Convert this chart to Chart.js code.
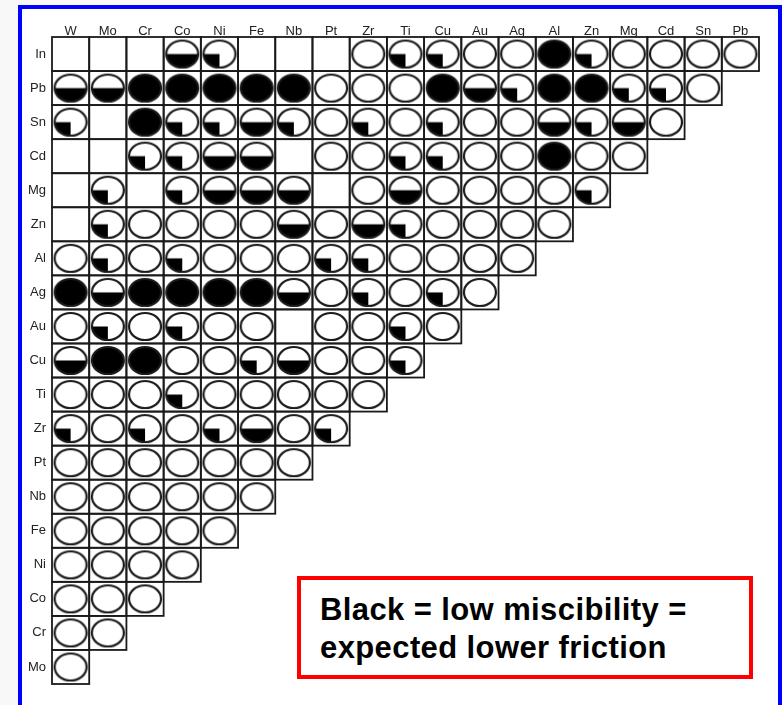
<!DOCTYPE html>
<html>
<head>
<meta charset="utf-8">
<title>Miscibility chart</title>
<script src="https://cdn.jsdelivr.net/npm/chart.js@4.4.0/dist/chart.umd.min.js"></script>
<style>
	html, body { margin: 0; padding: 0; background: #f8f8f8; overflow: hidden; }
	#frame { position: absolute; left: 18px; top: 5px; width: 756px; height: 720px; background: #fff; border: 4px solid #0000ff; border-bottom: none; }
	#chartBox { position: absolute; left: 0; top: 0; width: 782px; height: 705px; }
	#note { position: absolute; left: 297px; top: 576px; width: 429px; height: 84px; padding: 11px 0 0 19px; border: 4px solid #ff0000; background: #fff;
		font: bold 31px 'Liberation Sans', Arial, sans-serif; line-height: 38px; letter-spacing: 0.4px; color: #000; white-space: nowrap; }
</style>
</head>
<body>
<div id="frame"></div>
<div id="chartBox"><canvas id="misc" width="782" height="705"></canvas></div>
<div id="note">Black = low miscibility =<br>expected lower friction</div>
<script>
// columns and rows of the compatibility chart
var cols = ['W', 'Mo', 'Cr', 'Co', 'Ni', 'Fe', 'Nb', 'Pt', 'Zr', 'Ti', 'Cu', 'Au', 'Ag', 'Al', 'Zn', 'Mg', 'Cd', 'Sn', 'Pb'];
var rows = ['In', 'Pb', 'Sn', 'Cd', 'Mg', 'Zn', 'Al', 'Ag', 'Au', 'Cu', 'Ti', 'Zr', 'Pt', 'Nb', 'Fe', 'Ni', 'Co', 'Cr', 'Mo'];

// 0 = no mark, 1 = open circle, 2 = quarter black, 3 = half black, 4 = all black
var rowIn = [0, 0, 0, 3, 2, 0, 0, 0, 1, 2, 2, 1, 1, 4, 2, 1, 1, 1, 1];
var rowPb = [3, 3, 4, 4, 4, 4, 4, 1, 1, 1, 4, 3, 2, 4, 4, 2, 2, 1];
var rowSn = [2, 0, 4, 2, 2, 3, 2, 1, 2, 1, 2, 1, 1, 3, 2, 3, 1];
var rowCd = [0, 0, 2, 2, 3, 3, 0, 1, 1, 2, 2, 1, 1, 4, 1, 1];
var rowMg = [0, 2, 0, 2, 3, 3, 3, 0, 1, 3, 1, 1, 1, 1, 2];
var rowZn = [0, 2, 1, 1, 1, 1, 3, 1, 3, 2, 1, 1, 1, 1];
var rowAl = [1, 2, 1, 2, 1, 1, 1, 2, 2, 1, 1, 1, 1];
var rowAg = [4, 3, 4, 4, 4, 4, 3, 1, 2, 1, 2, 1];
var rowAu = [1, 2, 1, 2, 1, 1, 0, 1, 1, 2, 1];
var rowCu = [3, 4, 4, 1, 1, 2, 3, 1, 1, 2];
var rowTi = [1, 1, 1, 2, 1, 1, 1, 1, 1];
var rowZr = [2, 1, 2, 1, 2, 3, 1, 2];
var rowPt = [1, 1, 1, 1, 1, 1, 1];
var rowNb = [1, 1, 1, 1, 1, 1];
var rowFe = [1, 1, 1, 1, 1];
var rowNi = [1, 1, 1, 1];
var rowCo = [1, 1, 1];
var rowCr = [1, 1];
var rowMo = [1];

var grid = [rowIn, rowPb, rowSn, rowCd, rowMg, rowZn, rowAl, rowAg, rowAu, rowCu,
	rowTi, rowZr, rowPt, rowNb, rowFe, rowNi, rowCo, rowCr, rowMo];

// little pictures used as point styles
function makeMark(kind) {
	var c = document.createElement('canvas');
	c.width = 36;
	c.height = 31;
	var g = c.getContext('2d');
	var cx = 18, cy = 15.5, rx = 16, ry = 13.5;
	g.fillStyle = '#000';
	if (kind == 4) {
		g.beginPath();
		g.ellipse(cx, cy, rx, ry, 0, 0, Math.PI * 2);
		g.fill();
	} else if (kind == 3) {
		g.beginPath();
		g.ellipse(cx, cy, rx, ry, 0, 0, Math.PI);
		g.closePath();
		g.fill();
	} else if (kind == 2) {
		g.beginPath();
		g.moveTo(cx, cy);
		g.ellipse(cx, cy, rx, ry, 0, Math.PI / 2, Math.PI);
		g.closePath();
		g.fill();
	}
	g.strokeStyle = '#1a1a1a';
	g.lineWidth = 2.2;
	g.beginPath();
	g.ellipse(cx, cy, rx, ry, 0, 0, Math.PI * 2);
	g.stroke();
	return c;
}

function pointsOf(kind) {
	var pts = [];
	grid.forEach(function (r, i) {
		r.forEach(function (v, j) {
			if (v == kind) pts.push({x: cols[j], y: rows[i]});
		});
	});
	return pts;
}

var kinds = [1, 2, 3, 4];
var datasets = kinds.map(function (k) {
	return {
		data: pointsOf(k),
		pointStyle: makeMark(k),
		pointRadius: 10,
		pointHoverRadius: 10
	};
});

// square boxes round every cell of the staircase
var cellPlugin = {
	id: 'cells',
	beforeDatasetsDraw: function (chart) {
		var xs = chart.scales.x, ys = chart.scales.y, ctx = chart.ctx;
		var bw = xs.width / cols.length, bh = ys.height / rows.length;
		ctx.save();
		ctx.strokeStyle = '#1a1a1a';
		ctx.lineWidth = 1.8;
		grid.forEach(function (r, i) {
			r.forEach(function (v, j) {
				var px = xs.getPixelForValue(j), py = ys.getPixelForValue(i);
				ctx.strokeRect(px - bw / 2, py - bh / 2, bw, bh);
			});
		});
		ctx.restore();
	}
};

Chart.defaults.font.family = "'Liberation Sans', Arial, sans-serif";

new Chart('misc', {
	type: 'scatter',
	data: {datasets: datasets},
	plugins: [cellPlugin],
	options: {
		responsive: false,
		animation: false,
		events: [],
		layout: {padding: {left: 0, top: 0, right: 23, bottom: 21}},
		plugins: {legend: {display: false}, tooltip: {enabled: false}},
		scales: {
			x: {
				type: 'category',
				labels: cols,
				position: 'top',
				offset: true,
				grid: {display: false, drawTicks: false},
				border: {display: false},
				ticks: {color: '#222', font: {size: 13}, padding: -2, autoSkip: false, maxRotation: 0},
				afterFit: function (s) { s.height = 37; }
			},
			y: {
				type: 'category',
				labels: rows,
				offset: true,
				grid: {display: false, drawTicks: false},
				border: {display: false},
				ticks: {color: '#222', font: {size: 13}, padding: 6, autoSkip: false},
				afterFit: function (s) { s.width = 52; }
			}
		}
	}
});
</script>
</body>
</html>
